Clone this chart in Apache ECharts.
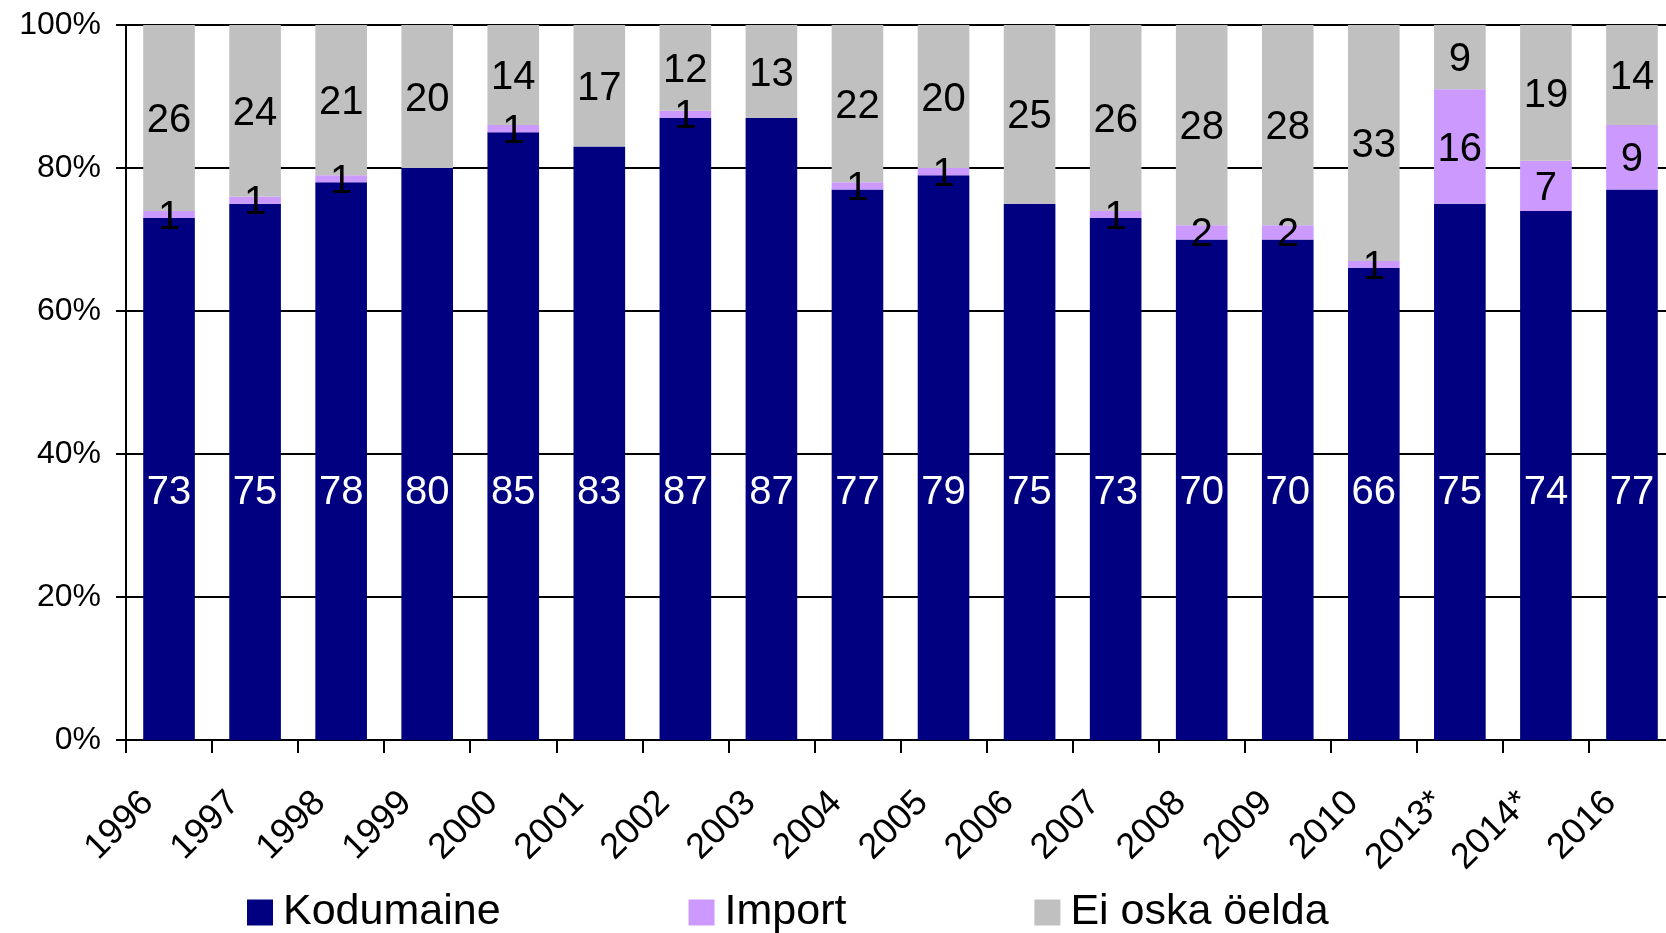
<!DOCTYPE html>
<html>
<head>
<meta charset="utf-8">
<script src="https://cdn.jsdelivr.net/npm/echarts@6/dist/echarts.min.js"></script>
<style>
html,body{margin:0;padding:0;background:#fff;overflow:hidden;width:1666px;height:933px;}
#chart{width:1676px;height:933px;}
</style>
</head>
<body>
<div id="chart"></div>
<script>
const categories = ['1996','1997','1998','1999','2000','2001','2002','2003','2004','2005','2006','2007','2008','2009','2010','2013*','2014*','2016'];
const kodumaine = [73,75,78,80,85,83,87,87,77,79,75,73,70,70,66,75,74,77];
const importVals = [1,1,1,0,1,0,1,0,1,1,0,1,2,2,1,16,7,9];
const eiOska = [26,24,21,20,14,17,12,13,22,20,25,26,28,28,33,9,19,14];
const yTicks = [0,20,40,60,80,100];

const FONT = '"Liberation Sans", Arial, sans-serif';
const chart = echarts.init(document.getElementById('chart'));

const hideZero = p => (p.value === 0 ? '' : String(p.value));

chart.setOption({
  animation: false,
  backgroundColor: '#fff',
  textStyle: { fontFamily: FONT },
  grid: { left: 126, right: 1, top: 25, bottom: 193, containLabel: false },
  legend: {
    data: ['Kodumaine', 'Import', 'Ei oska öelda'],
    left: 242, top: 886,
    icon: 'rect', itemWidth: 26, itemHeight: 26, itemGap: 188,
    textStyle: { fontSize: 43, color: '#000', fontFamily: FONT, padding: [0, 0, 0, 5] }
  },
  xAxis: {
    type: 'category',
    data: categories,
    boundaryGap: true,
    axisLine: { lineStyle: { color: '#000', width: 2 } },
    axisTick: { show: true, interval: 0, length: 13, lineStyle: { color: '#000', width: 2 } },
    axisLabel: { interval: 0, rotate: 45, margin: 36, fontSize: 36, color: '#000', fontFamily: FONT, padding: [0, 30, 0, 0] }
  },
  yAxis: {
    type: 'value',
    min: yTicks[0], max: yTicks[yTicks.length - 1], interval: yTicks[1] - yTicks[0],
    axisLine: { show: true, lineStyle: { color: '#000', width: 2 } },
    axisTick: { show: true, length: 10, lineStyle: { color: '#000', width: 2 } },
    splitLine: { show: true, lineStyle: { color: '#000', width: 2 } },
    axisLabel: { formatter: '{value}%', fontSize: 32, color: '#000', margin: 25, fontFamily: FONT }
  },
  series: [
    {
      name: 'Kodumaine', type: 'bar', stack: 'total', data: kodumaine,
      barCategoryGap: '40%',
      itemStyle: { color: '#000080' },
      label: { show: true, position: 'insideBottom', distance: 227, color: '#fff', fontSize: 40, fontFamily: FONT, textBorderWidth: 0, formatter: hideZero }
    },
    {
      name: 'Import', type: 'bar', stack: 'total', data: importVals,
      itemStyle: { color: '#CC99FF' },
      label: { show: true, position: 'inside', offset: [0, 3], color: '#000', fontSize: 40, fontFamily: FONT, textBorderWidth: 0, formatter: hideZero }
    },
    {
      name: 'Ei oska öelda', type: 'bar', stack: 'total', data: eiOska,
      itemStyle: { color: '#C0C0C0' },
      label: { show: true, position: 'inside', offset: [0, 3], color: '#000', fontSize: 40, fontFamily: FONT, textBorderWidth: 0, formatter: hideZero }
    }
  ]
});
</script>
</body>
</html>
